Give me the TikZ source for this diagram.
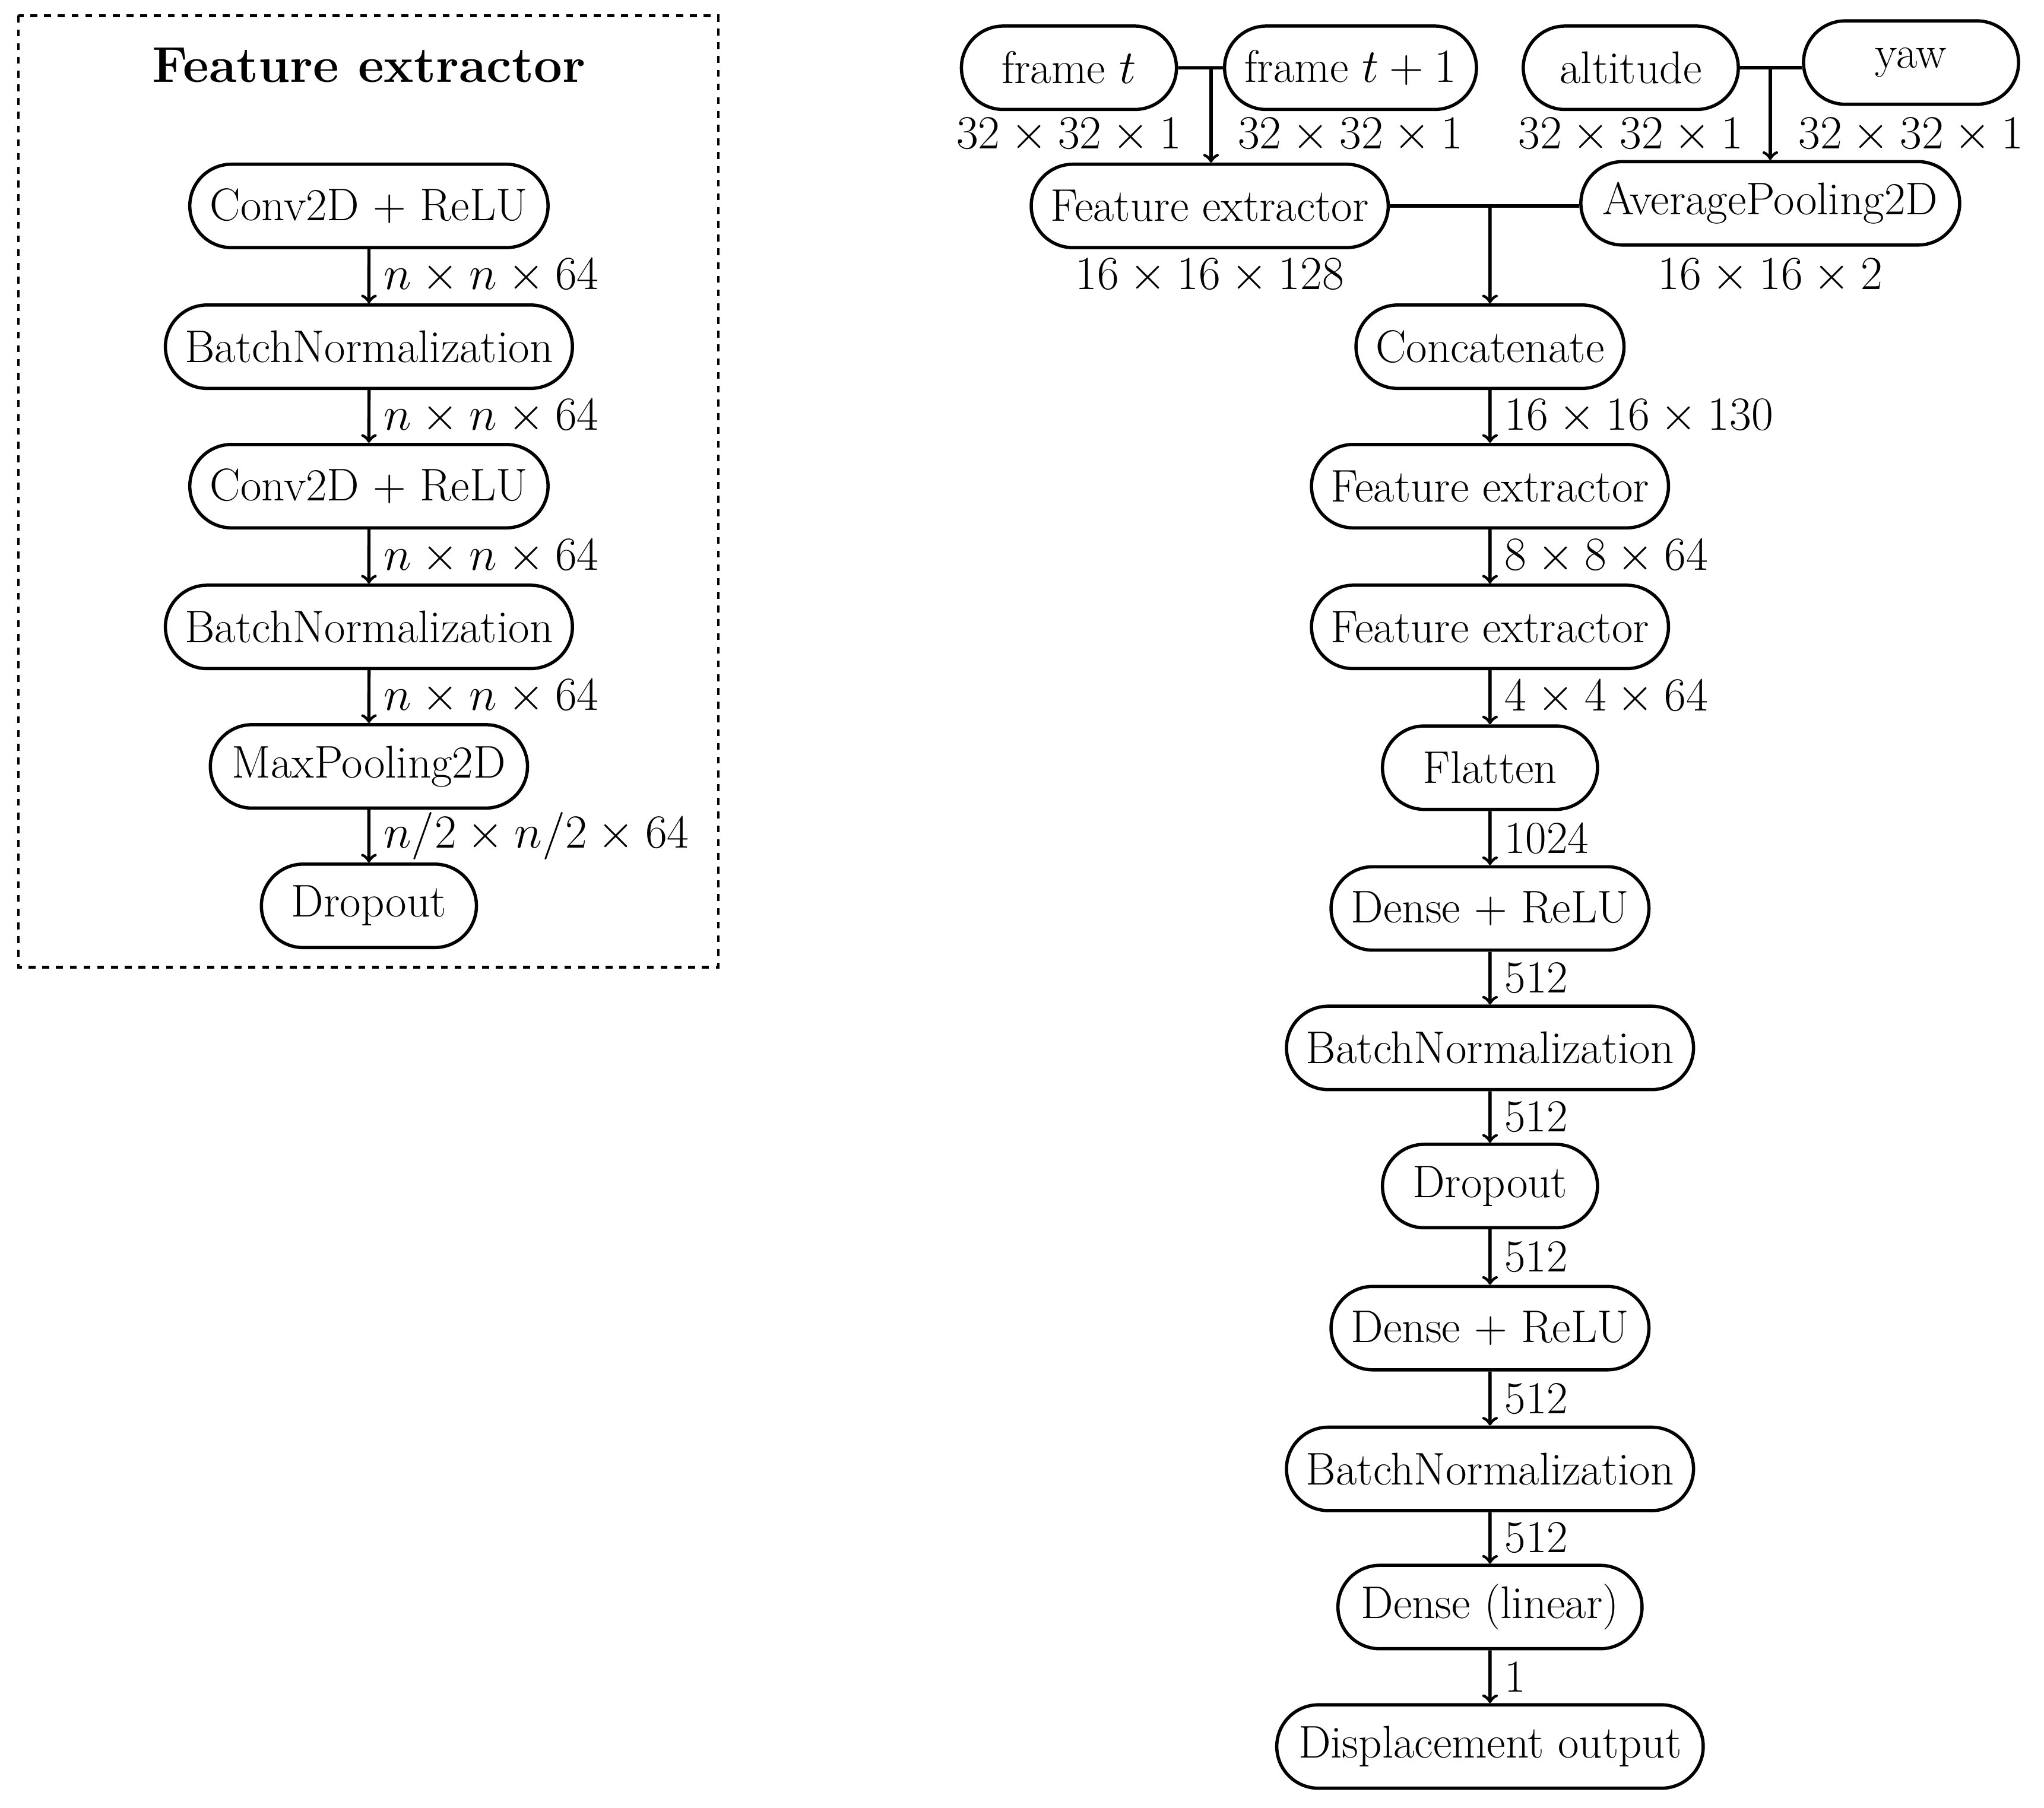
\documentclass[tikz,border=0pt]{standalone}
\usepackage{amsmath}
\usetikzlibrary{positioning,shapes.misc}
\tikzset{
  layer/.style={draw, rounded rectangle, line width=0.05cm, minimum width=3.8cm,
    minimum height=1.28cm, inner xsep=0.25cm},
  flow/.style={->, line width=0.05cm},
  dims/.style={anchor=west, inner xsep=0.2cm}
}
\begin{document}
\begin{tikzpicture}[x=0.02cm, y=-0.02cm, font=\fontsize{20}{24}\selectfont]
\useasboundingbox (0,0) rectangle (1568,1387);

% Drawing the feature extractor box
\draw [dashed, line width=0.04cm] (14,12) rectangle (551,742);
\node [font=\fontsize{22}{26}\selectfont\bfseries] (title) at (283,50) {Feature extractor};

% Drawing left column
\node [layer] (conva) at (283,158) {Conv2D + ReLU};
\node [layer] (bna) at (283,266) {BatchNormalization};
\node [layer] (convb) at (283,373) {Conv2D + ReLU};
\node [layer] (bnb) at (283,481) {BatchNormalization};
\node [layer] (pool) at (283,588) {MaxPooling2D};
\node [layer] (dropa) at (283,695) {Dropout};

\draw [flow] (conva) -- node [dims] {$n\times n\times 64$} (bna);
\draw [flow] (bna) -- node [dims] {$n\times n\times 64$} (convb);
\draw [flow] (convb) -- node [dims] {$n\times n\times 64$} (bnb);
\draw [flow] (bnb) -- node [dims] {$n\times n\times 64$} (pool);
\draw [flow] (pool) -- node [dims] {$n/2\times n/2\times 64$} (dropa);

% Drawing inputs
\node [layer] (framea) at (820,52) {frame $t$};
\node [layer] (frameb) at (1036,52) {frame $t+1$};
\node [layer] (alt) at (1251,52) {altitude};
\node [layer] (yaw) at (1466,48) {yaw};
\node (dframea) at (820,104) {$32\times 32\times 1$};
\node (dframeb) at (1036,104) {$32\times 32\times 1$};
\node (dalt) at (1251,104) {$32\times 32\times 1$};
\node (dyaw) at (1466,104) {$32\times 32\times 1$};

% Drawing first stage
\node [layer] (fea) at (928,158) {Feature extractor};
\node [layer] (avg) at (1358,156) {AveragePooling2D};
\node (dfea) at (928,212) {$16\times 16\times 128$};
\node (davg) at (1358,212) {$16\times 16\times 2$};

\coordinate (jframe) at (929,52);
\coordinate (jalt) at (1358,52);
\coordinate (jmid) at (1143,158);
\draw [line width=0.05cm] (framea) -- (frameb);
\draw [line width=0.05cm] (alt.east |- jalt) -- (yaw.west |- jalt);
\draw [flow] (jframe) -- (jframe |- fea.north);
\draw [flow] (jalt) -- (jalt |- avg.north);
\draw [line width=0.05cm] (fea.east |- jmid) -- (avg.west |- jmid);

% Drawing right column
\node [layer] (concat) at (1143,266) {Concatenate};
\node [layer] (feb) at (1143,373) {Feature extractor};
\node [layer] (fec) at (1143,481) {Feature extractor};
\node [layer] (flat) at (1143,589) {Flatten};
\node [layer] (densea) at (1143,697) {Dense + ReLU};
\node [layer] (bnc) at (1143,804) {BatchNormalization};
\node [layer] (dropb) at (1143,910) {Dropout};
\node [layer] (denseb) at (1143,1019) {Dense + ReLU};
\node [layer] (bnd) at (1143,1127) {BatchNormalization};
\node [layer] (lin) at (1143,1233) {Dense (linear)};
\node [layer] (out) at (1143,1340) {Displacement output};

\draw [flow] (jmid) -- (concat);
\draw [flow] (concat) -- node [dims] {$16\times 16\times 130$} (feb);
\draw [flow] (feb) -- node [dims] {$8\times 8\times 64$} (fec);
\draw [flow] (fec) -- node [dims] {$4\times 4\times 64$} (flat);
\draw [flow] (flat) -- node [dims] {1024} (densea);
\draw [flow] (densea) -- node [dims] {512} (bnc);
\draw [flow] (bnc) -- node [dims] {512} (dropb);
\draw [flow] (dropb) -- node [dims] {512} (denseb);
\draw [flow] (denseb) -- node [dims] {512} (bnd);
\draw [flow] (bnd) -- node [dims] {512} (lin);
\draw [flow] (lin) -- node [dims] {1} (out);
\end{tikzpicture}
\end{document}
